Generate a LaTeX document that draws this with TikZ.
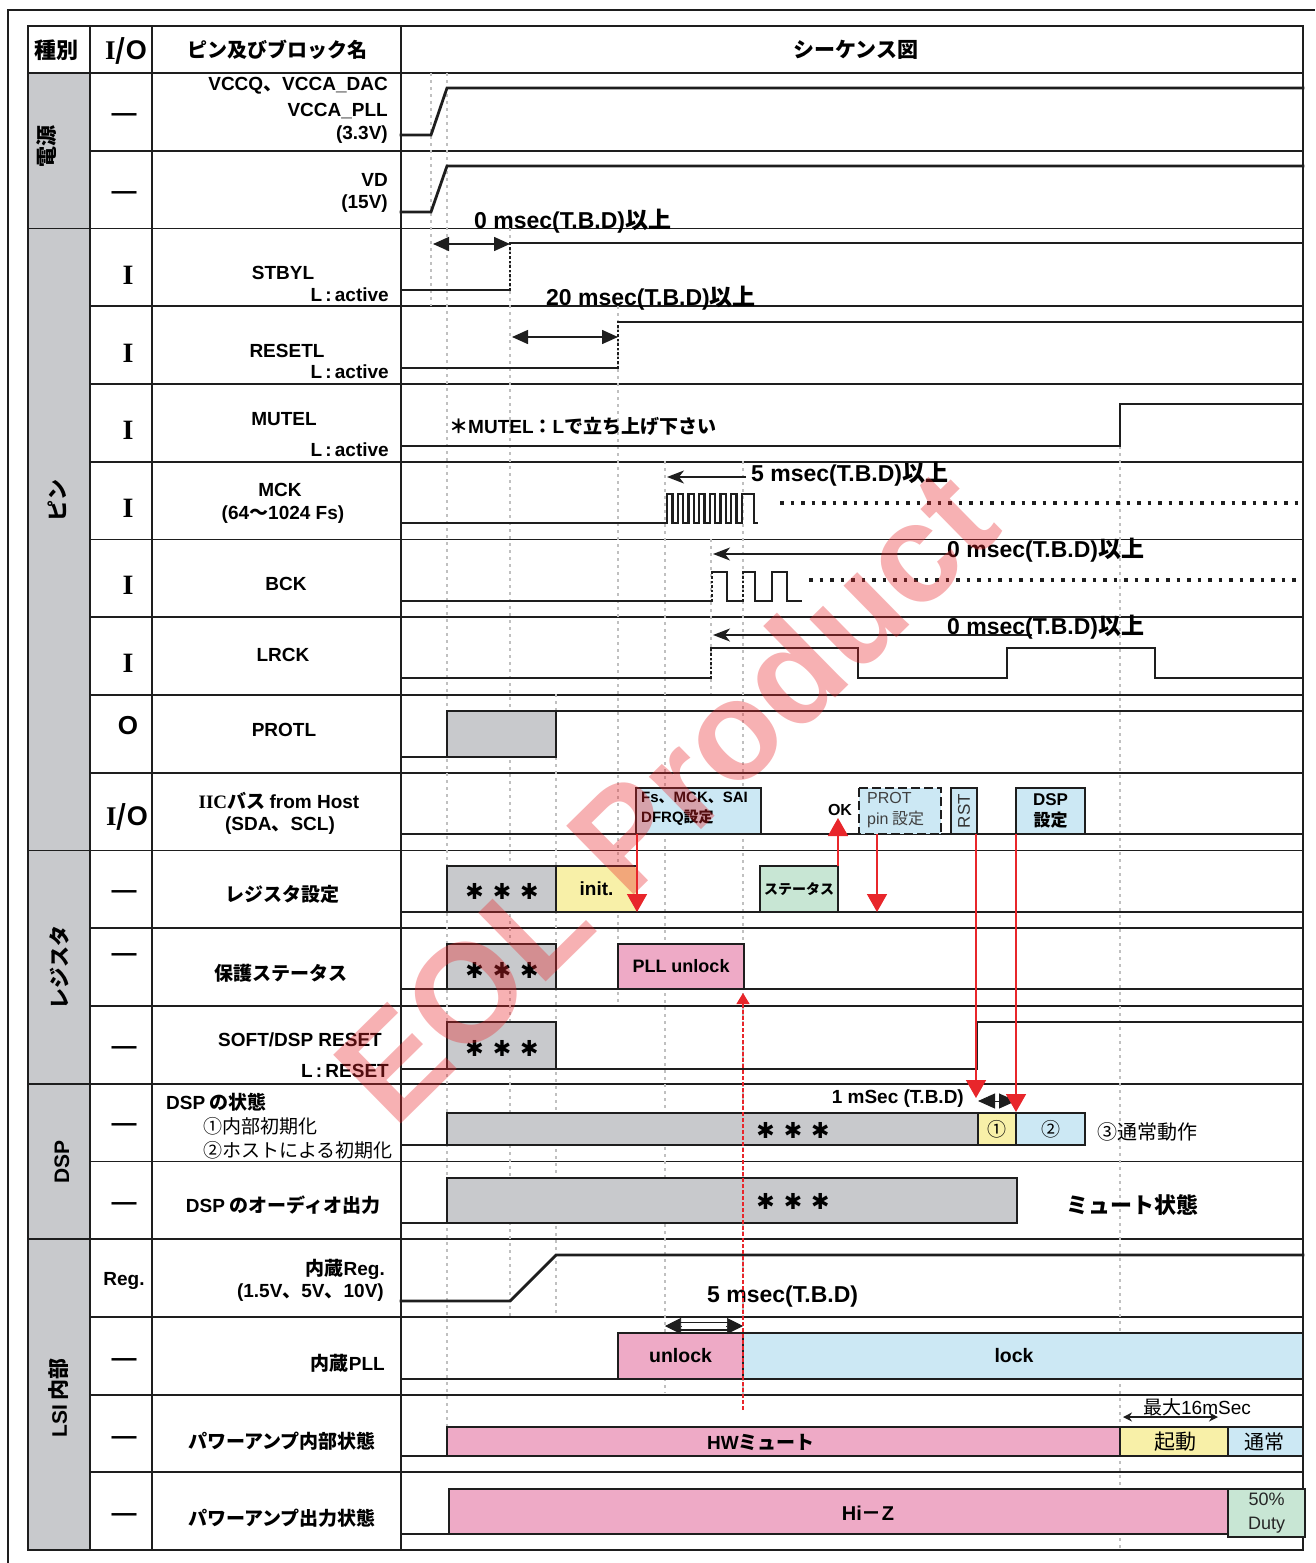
\documentclass[tikz,border=0pt]{standalone}
\usepackage{fontspec}
\setmainfont{Noto Sans CJK JP}
\newfontfamily\lat{Liberation Sans}
\newfontfamily\ser{Liberation Serif}
\newfontfamily\djv{DejaVu Sans}
\usetikzlibrary{arrows.meta}
\newcommand\myfs[2]{\fontsize{#1}{#2}\selectfont}
\newcommand\la[1]{{\lat #1}}
\newcommand\tristar{{\djv ✱\hspace{9pt}✱\hspace{9pt}✱}}
\newcommand\sbx[7]{\node[sbox,fill=#2,minimum width={(#5-#3)*1pt},minimum height={(#6-#4)*1pt}] (#1) at (#3,#4) {#7};}
\definecolor{ink}{RGB}{30,30,30}
\definecolor{grp}{RGB}{200,201,204}
\definecolor{bgray}{RGB}{200,201,204}
\definecolor{ylw}{RGB}{248,240,168}
\definecolor{lblue}{RGB}{204,232,244}
\definecolor{pnk}{RGB}{238,170,198}
\definecolor{grn}{RGB}{200,230,212}
\definecolor{rd}{RGB}{232,38,43}
\definecolor{guidec}{RGB}{192,192,192}
\tikzset{
  tbl/.style={draw=ink, line width=1.8pt},
  wave/.style={draw=ink, line width=2.8pt, line join=miter, line cap=rect},
  edgev/.style={draw=ink, line width=2.8pt, dash pattern=on 2.5pt off 2pt},
  guide/.style={draw=guidec, line width=2.4pt, dash pattern=on 3pt off 4pt},
  dotsl/.style={draw=ink, line width=3.5pt, dash pattern=on 3.5pt off 7pt},
  sbox/.style={draw=ink, line width=2.6pt, inner sep=0pt, outer sep=0pt, anchor=north west},
  nm/.style={inner sep=0pt, font=\bfseries\myfs{19}{22}},
  nmr/.style={inner sep=0pt, font=\myfs{19}{22}},
  tm/.style={inner sep=0pt, font=\bfseries\myfs{23}{26}},
  io/.style={inner sep=0pt, font=\bfseries\myfs{25}{26}},
  starl/.style={inner sep=0pt, font=\bfseries\myfs{22}{24}},
  grpl/.style={inner sep=0pt, rotate=90, font=\bfseries\myfs{21}{24}},
  dimarr/.style={draw=ink, line width=1.5pt, {Triangle[length=16pt,width=14pt]}-{Triangle[length=16pt,width=14pt]}},
  leftarr/.style={draw=ink, line width=1.5pt, -{Stealth[length=17pt,width=13pt,inset=5pt]}},
  redarr/.style={draw=rd, line width=1.6pt, -{Triangle[length=18pt,width=20pt]}},
}
\begin{document}
\begin{tikzpicture}[x=1pt,y=-1pt]
\useasboundingbox (0,0) rectangle (1315,1563);
% outer frame
\draw[draw=ink, line width=1.6pt] (8,1563) -- (8,10) -- (1315,10);
% group column
\fill[grp] (28,73) rectangle (90,1550);
% table lines
\foreach \yy in {73,150.7,228.5,306.2,384.0,461.7,539.4,617.2,694.9,772.7,850.4,928.1,1005.9,1083.6,1161.4,1239.1,1316.8,1394.6,1472.3,1550}
  {\draw[tbl] (90,\yy) -- (1303,\yy);}
\foreach \yy in {73,228.5,850.4,1083.6,1239.1,1550}
  {\draw[tbl] (28,\yy) -- (90,\yy);}
\draw[tbl] (28,26) rectangle (1303,1550);
\foreach \xx in {90,152,401} {\draw[tbl] (\xx,26) -- (\xx,1550);}
% guides
\foreach \xx/\ya/\yb in {431/73/306,447/73/1430,510/228/1316,556/694/1316,618/306/1005,665/461/1393,711/539/694,743/461/1395,1120/446/1550}
  {\draw[guide] (\xx,\ya) -- (\xx,\yb);}

% header
\node[inner sep=0pt, font=\bfseries\myfs{22}{24}] (h1) at (56,50) {種別};
\node[inner sep=0pt, font=\bfseries\myfs{27}{28}] (h2) at (126,51) {{\ser I}/\la{O}};
\node[inner sep=0pt, font=\bfseries\myfs{20}{22}] (h3) at (277,50) {ピン及びブロック名};
\node[inner sep=0pt, font=\bfseries\myfs{21}{22}] (h4) at (856,50) {シーケンス図};

% group labels
\node[grpl] (g1) at (47,146) {電源};
\node[grpl] (g2) at (57,500) {ピン};
\node[grpl] (g3) at (59,967) {レジスタ};
\node[grpl] (g4) at (62,1162) {\la{DSP}};
\node[grpl] (g5) at (59,1398) {\la{LSI} 内部};

% I/O column
\node[io] (io1) at (124,118) {\la{—}};
\node[io] (io2) at (124,196) {\la{—}};
\foreach \yy [count=\i] in {275,353,430,508,585,663}
  {\node[inner sep=0pt, font=\bfseries\myfs{28}{30}] (ioi\i) at (128,\yy) {\ser I};}
\node[inner sep=0pt, font=\bfseries\myfs{26}{28}] (io9) at (128,726) {\la{O}};
\node[inner sep=0pt, font=\bfseries\myfs{27}{28}] (io10) at (127,817) {{\ser I}/\la{O}};
\foreach \yy [count=\i] in {895,958,1051,1128,1207,1363,1441,1518}
  {\node[io] (iod\i) at (124,\yy) {\la{—}};}
\node[nm] (io16) at (124,1281) {\la{Reg.}};

% pin / block names
\node[nm, anchor=east] (n1a) at (388,86) {\la{VCCQ}、\la{VCCA\_DAC}};
\node[nm, anchor=east] (n1b) at (388,111) {\la{VCCA\_PLL}};
\node[nm, anchor=east] (n1c) at (388,135) {\la{(3.3V)}};
\node[nm, anchor=east] (n2a) at (388,180) {\la{VD}};
\node[nm, anchor=east] (n2b) at (388,204) {\la{(15V)}};
\node[nm] (n3a) at (283,273) {\la{STBYL}};
\node[nm, anchor=east] (n3b) at (389,295) {\la{L\,:\,active}};
\node[nm] (n4a) at (287,351) {\la{RESETL}};
\node[nm, anchor=east] (n4b) at (389,372) {\la{L\,:\,active}};
\node[nm] (n5a) at (284,419) {\la{MUTEL}};
\node[nm, anchor=east] (n5b) at (389,450) {\la{L\,:\,active}};
\node[nm] (n6a) at (280,490) {\la{MCK}};
\node[nm] (n6b) at (283,515) {\la{(64}～\la{1024 Fs)}};
\node[nm] (n7) at (286,584) {\la{BCK}};
\node[nm] (n8) at (283,655) {\la{LRCK}};
\node[nm] (n9) at (284,730) {\la{PROTL}};
\node[nm] (n10a) at (279,801) {{\ser IIC}バス \la{from Host}};
\node[nm] (n10b) at (280,826) {\la{(SDA}、\la{SCL)}};
\node[nm] (n11) at (282,894) {レジスタ設定};
\node[nm] (n12) at (281,973) {保護ステータス};
\node[nm] (n13a) at (300,1040) {\la{SOFT/DSP RESET}};
\node[nm, anchor=east] (n13b) at (389,1071) {\la{L\,:\,RESET}};
\node[nm, anchor=west] (n14a) at (166,1102) {\la{DSP} の状態};
\node[nmr, anchor=west] (n14b) at (203,1126) {①内部初期化};
\node[nmr, anchor=west] (n14c) at (203,1150) {②ホストによる初期化};
\node[nm] (n15) at (283,1205) {\la{DSP} のオーディオ出力};
\node[nm, anchor=east] (n16a) at (385,1269) {内蔵\la{Reg.}};
\node[nm, anchor=east] (n16b) at (384,1293) {\la{(1.5V}、\la{5V}、\la{10V)}};
\node[nm, anchor=east] (n17) at (385,1363) {内蔵\la{PLL}};
\node[nm] (n18) at (282,1441) {パワーアンプ内部状態};
\node[nm] (n19) at (282,1518) {パワーアンプ出力状態};

% ---------- waveforms ----------
% power
\draw[wave] (401,135) -- (431,135) -- (447,88) -- (1303,88);
\draw[wave] (401,212) -- (431,212) -- (447,166) -- (1303,166);
% STBYL
\draw[wave] (401,290) -- (510,290);
\draw[edgev] (510,290) -- (510,243);
\draw[wave] (510,243) -- (1303,243);
% RESETL
\draw[wave] (401,368) -- (618,368);
\draw[edgev] (618,368) -- (618,322);
\draw[wave] (618,322) -- (1303,322);
% MUTEL
\draw[wave] (401,446) -- (1120,446) -- (1120,404) -- (1303,404);
% MCK
\draw[wave, line width=2.4pt, line cap=butt] (401,523) -- (667,523) |- (672.4,494) |- (677.7,523) |- (683.1,494) |- (688.4,523) |- (693.8,494) |- (699.1,523) |- (704.5,494) |- (709.8,523) |- (715.2,494) |- (720.5,523) |- (725.9,494) |- (731.2,523) |- (736.6,494) |- (741.9,523) |- (754,494) |- (758,523);
\draw[dotsl] (780,503) -- (1300,503);
% BCK
\draw[wave] (401,601) -- (712,601);
\draw[edgev] (712,601) -- (712,572);
\draw[wave] (712,572) -- (727,572) -- (727,601) -- (743,601);
\draw[edgev] (743,601) -- (743,572);
\draw[wave] (743,572) -- (755,572) -- (755,601) -- (772,601) -- (772,572) -- (787,572) -- (787,601) -- (801,601);
\draw[dotsl] (809,580) -- (1300,580);
% LRCK
\draw[wave] (401,678) -- (711,678);
\draw[edgev] (711,678) -- (711,648);
\draw[wave] (711,648) -- (858,648) -- (858,678) -- (1007,678) -- (1007,648) -- (1155,648) -- (1155,678) -- (1303,678);
% PROTL
\draw[wave] (401,757) -- (447,757);
\draw[wave] (556,711) -- (1303,711);
\sbx{pb}{bgray}{447}{711}{556}{757}{}
% IIC
\draw[wave] (401,834) -- (1303,834);
\sbx{fsb}{lblue}{636}{788}{761}{834}{}
\node[sbox, draw=none, fill=lblue, minimum width=82pt, minimum height=46pt] (prb) at (859,788) {};
\draw[draw=ink, line width=2.6pt, dash pattern=on 9pt off 4pt] (prb.north west) rectangle (prb.south east);
\sbx{rsb}{lblue}{951}{788}{977}{834}{}
\sbx{dsb}{lblue}{1016}{788}{1085}{834}{}
% register setting
\draw[wave] (401,912) -- (1303,912);
\sbx{rg1}{bgray}{447}{866}{556}{912}{}
\sbx{rg2}{ylw}{556}{866}{637}{912}{}
\sbx{stb}{grn}{760}{866}{838}{912}{}
% protect status
\draw[wave] (401,989) -- (1303,989);
\sbx{ps1}{bgray}{447}{944}{556}{989}{}
\sbx{ps2}{pnk}{618}{944}{744}{989}{}
% soft reset
\draw[wave] (401,1069) -- (977,1069) -- (977,1022) -- (1303,1022);
\sbx{sr1}{bgray}{447}{1022}{556}{1069}{}
% DSP state
\draw[wave] (401,1145) -- (447,1145);
\sbx{ds1}{bgray}{447}{1113}{978}{1145}{}
\sbx{ds2}{ylw}{978}{1113}{1016}{1145}{}
\sbx{ds3}{lblue}{1016}{1113}{1085}{1145}{}
% DSP audio
\draw[wave] (401,1223) -- (447,1223);
\sbx{da1}{bgray}{447}{1178}{1017}{1223}{}
% internal reg
\draw[wave] (401,1301) -- (510,1301) -- (556,1255) -- (1303,1255);
% internal PLL
\draw[wave] (401,1379) -- (618,1379);
\sbx{pl1}{pnk}{618}{1333}{743}{1379}{}
\sbx{pl2}{lblue}{743}{1333}{1303}{1379}{}
% power amp internal
\draw[wave] (401,1456) -- (447,1456);
\sbx{pa1}{pnk}{447}{1427}{1120}{1456}{}
\sbx{pa2}{ylw}{1120}{1427}{1228}{1456}{}
\sbx{pa3}{lblue}{1228}{1427}{1303}{1456}{}
% power amp output
\draw[wave] (401,1534) -- (449,1534);
\sbx{po1}{pnk}{449}{1489}{1228}{1534}{}
\sbx{po2}{grn}{1228}{1489}{1305}{1537}{}

% ---------- box texts ----------
\node[inner sep=0pt, anchor=north west, align=left, font=\bfseries\myfs{15}{20}] (fst) at (641,792) {\la{Fs}、\la{MCK}、\la{SAI}\\\la{DFRQ}設定};
\node[inner sep=0pt, anchor=north west, align=left, text=black!75, font=\myfs{16}{21}] (prt) at (867,792) {\la{PROT}\\\la{pin} 設定};
\node[inner sep=0pt, rotate=90, text=black!80, font=\myfs{17}{18}] (rst) at (rsb.center) {\la{RST}};
\node[inner sep=0pt, align=center, font=\bfseries\myfs{17}{21}] (dst) at (dsb.center) {\la{DSP}\\設定};
\node[starl] (st1) at (502,891) {\tristar};
\node[inner sep=0pt, font=\bfseries\myfs{19}{22}] (int) at (rg2.center) {\la{init.}};
\node[inner sep=0pt, font=\bfseries\myfs{14}{16}] (stt) at (stb.center) {ステータス};
\node[starl] (st2) at (502,970) {\tristar};
\node[inner sep=0pt, font=\bfseries\myfs{18}{20}] (plu) at (ps2.center) {\la{PLL unlock}};
\node[starl] (st3) at (502,1048) {\tristar};
\node[starl] (st4) at (793,1130) {\tristar};
\node[inner sep=0pt, font=\myfs{19}{20}] (c1) at (ds2.center) {①};
\node[inner sep=0pt, font=\myfs{19}{20}] (c2) at (ds3.center) {②};
\node[starl] (st5) at (793,1201) {\tristar};
\node[inner sep=0pt, font=\bfseries\myfs{19.5}{22}] (ulk) at (pl1.center) {\la{unlock}};
\node[inner sep=0pt, font=\bfseries\myfs{19.5}{22}] (lk) at (1014,1356) {\la{lock}};
\node[inner sep=0pt, font=\bfseries\myfs{19}{22}] (hwm) at (761,1442) {\la{HW}ミュート};
\node[inner sep=0pt, font=\myfs{21}{22}] (kid) at (1175,1442) {起動};
\node[inner sep=0pt, font=\myfs{20}{22}] (tsj) at (1264,1442) {通常};
\node[inner sep=0pt, font=\bfseries\myfs{20}{22}] (hiz) at (868,1513) {\la{Hi}－\la{Z}};
\node[inner sep=0pt, align=center, text=black!85, font=\myfs{18}{24}] (dty) at (po2.center) {\la{50\%}\\\la{Duty}};

% ---------- annotations ----------
\coordinate (a1l) at (433,244); \coordinate (a1r) at (510,244);
\draw[dimarr] (a1l) -- (a1r);
\node[tm, anchor=west] (t1) at (474,221) {\la{0 msec(T.B.D)}以上};
\coordinate (a2l) at (512,337); \coordinate (a2r) at (618,337);
\draw[dimarr] (a2l) -- (a2r);
\node[tm, anchor=west] (t2) at (546,298) {\la{20 msec(T.B.D)}以上};
\node[nm, anchor=west] (t3) at (449,426) {＊\la{MUTEL}：\la{L}で立ち上げ下さい};
\coordinate (a3s) at (746,477); \coordinate (a3e) at (667,477);
\draw[leftarr] (a3s) -- (a3e);
\node[tm, anchor=west] (t4) at (751,474) {\la{5 msec(T.B.D)}以上};
\coordinate (a4s) at (950,554); \coordinate (a4e) at (713,554);
\draw[leftarr] (a4s) -- (a4e);
\node[tm, anchor=west] (t5) at (947,550) {\la{0 msec(T.B.D)}以上};
\coordinate (a5s) at (1032,635); \coordinate (a5e) at (713,635);
\draw[leftarr] (a5s) -- (a5e);
\node[tm, anchor=west] (t6) at (947,627) {\la{0 msec(T.B.D)}以上};
\node[inner sep=0pt, font=\bfseries\myfs{16}{18}] (ok) at (840,810) {\la{OK}};
\node[nm, anchor=east] (t7) at (964,1099) {\la{1 mSec (T.B.D)}};
\coordinate (a6l) at (978,1101); \coordinate (a6r) at (1016,1101);
\draw[draw=ink, line width=1pt, {Triangle[length=17pt,width=15pt]}-{Triangle[length=17pt,width=15pt]}] (a6l) -- (a6r);
\node[nmr, anchor=west, font=\myfs{20}{22}] (t8) at (1097,1132) {③通常動作};
\node[inner sep=0pt, font=\bfseries\myfs{22}{24}] (t9) at (1132,1205) {ミュート状態};
\node[tm, anchor=west] (t10) at (707,1297) {\la{5 msec(T.B.D)}};
\coordinate (a7l) at (665,1326); \coordinate (a7r) at (743,1326);
\draw[draw=ink, line width=0.6pt, {Triangle[length=16pt,width=16pt]}-{Triangle[length=16pt,width=16pt]}] (a7l) -- (a7r);
\draw[draw=white, line width=5pt] (682,1326) -- (726,1326);
\draw[draw=ink, line width=1.3pt] (680,1322.5) -- (728,1322.5) (680,1330) -- (728,1330);
\node[nmr] (t11) at (1197,1407) {最大\la{16mSec}};
\coordinate (a8l) at (1123,1417); \coordinate (a8r) at (1218,1417);
\draw[draw=ink, line width=1.4pt, {Stealth[length=9pt,width=9pt]}-{Stealth[length=9pt,width=9pt]}] (a8l) -- (a8r);

% red arrows
\coordinate (r1) at (637,912);
\draw[redarr] ([xshift=1pt]fsb.south west) -- (r1);
\coordinate (r2) at (838,818);
\draw[redarr] (stb.north east) -- (r2);
\coordinate (r3) at (877,912);
\draw[redarr] ([xshift=18pt]prb.south west) -- (r3);
\coordinate (r4) at (976,1098);
\draw[redarr] ([xshift=-1pt]rsb.south east) -- (r4);
\coordinate (r5) at (1016,1112);
\draw[redarr] (dsb.south west) -- (r5);
\coordinate (r6s) at (743,1410); \coordinate (r6e) at (743,993);
\draw[draw=rd, line width=1.3pt, dash pattern=on 4pt off 2pt, -{Triangle[length=11pt,width=13pt]}] (r6s) -- (r6e);

% watermark
\node[inner sep=0pt, rotate=44.5, text=rd, text opacity=0.36, font=\lat\bfseries\myfs{140}{140}] (wm) at (665,795) {EOL Product};
\end{tikzpicture}
\end{document}
